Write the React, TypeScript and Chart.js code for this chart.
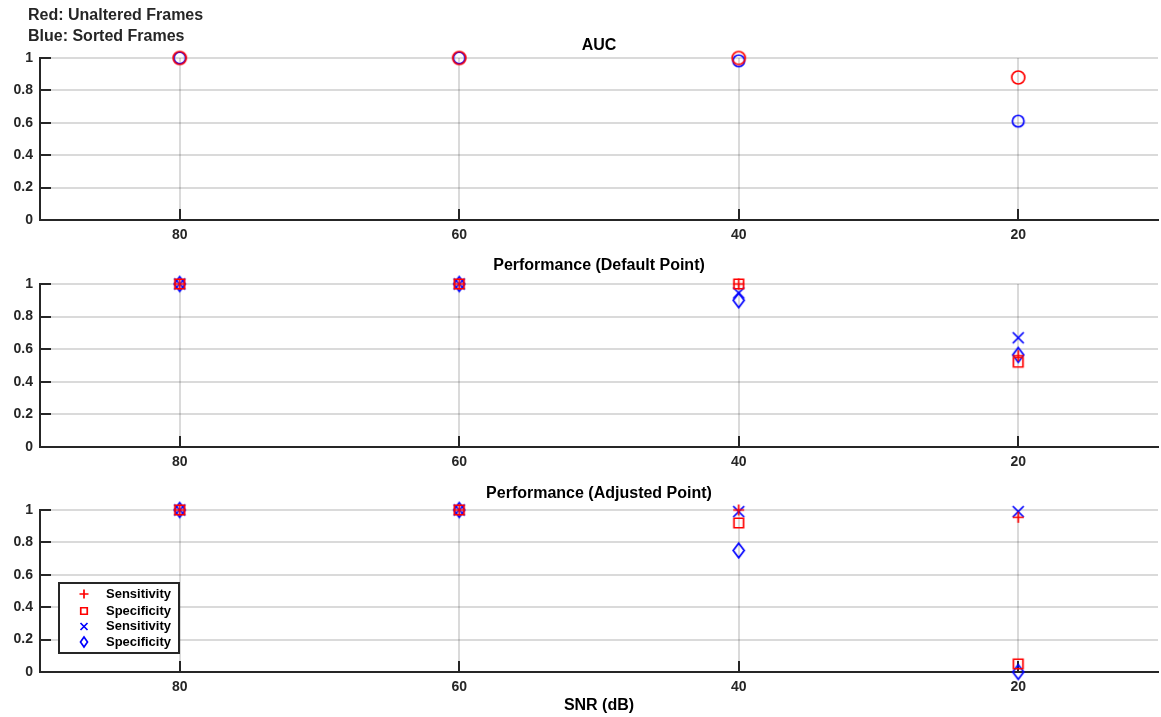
import React, { useEffect, useRef } from 'react';
import { Chart, registerables } from 'chart.js';

Chart.register(...registerables);

// ---------- data ----------
const snrLabels = ['80', '60', '40', '20'];
const yTickValues = [0, 0.2, 0.4, 0.6, 0.8, 1];

const aucUnaltered = [1, 1, 1, 0.88];
const aucSorted = [1, 1, 0.983, 0.61];

const defSensUnaltered = [1, 1, 1, 0.56];
const defSpecUnaltered = [1, 1, 1, 0.52];
const defSensSorted = [1, 1, 0.945, 0.67];
const defSpecSorted = [1, 1, 0.9, 0.565];

const adjSensUnaltered = [1, 1, 1, 0.955];
const adjSpecUnaltered = [1, 1, 0.92, 0.05];
const adjSensSorted = [1, 1, 0.99, 0.99];
const adjSpecSorted = [1, 1, 0.75, 0];

const legendLabels = ['Sensitivity', 'Specificity', 'Sensitivity', 'Specificity'];

// ---------- styles ----------
const RED = 'rgb(255,0,0)';
const BLUE = 'rgb(0,0,255)';
const AXIS = '#262626';
const GRID = 'rgba(38,38,38,0.17)';
const FONT = '"Liberation Sans", Arial, Helvetica, sans-serif';

function markerCanvas(shape: string, color: string, w: number, h: number, lw = 1.7): HTMLCanvasElement {
  const pad = 2;
  const c = document.createElement('canvas');
  c.width = Math.ceil(w + pad * 2);
  c.height = Math.ceil(h + pad * 2);
  const ctx = c.getContext('2d')!;
  drawShape(ctx, shape, color, c.width / 2, c.height / 2, w, h, lw);
  return c;
}

function drawShape(ctx: CanvasRenderingContext2D, shape: string, color: string, cx: number, cy: number, w: number, h: number, lw: number) {
  const hw = w / 2, hh = h / 2;
  ctx.save();
  ctx.strokeStyle = color;
  ctx.lineWidth = lw;
  ctx.beginPath();
  switch (shape) {
    case 'circle':
      ctx.ellipse(cx, cy, hw, hh, 0, 0, Math.PI * 2);
      break;
    case 'plus':
      ctx.moveTo(cx - hw, cy); ctx.lineTo(cx + hw, cy);
      ctx.moveTo(cx, cy - hh); ctx.lineTo(cx, cy + hh);
      break;
    case 'square':
      ctx.rect(cx - hw, cy - hh, w, h);
      break;
    case 'x':
      ctx.moveTo(cx - hw, cy - hh); ctx.lineTo(cx + hw, cy + hh);
      ctx.moveTo(cx + hw, cy - hh); ctx.lineTo(cx - hw, cy + hh);
      break;
    case 'diamond':
      ctx.moveTo(cx, cy - hh); ctx.lineTo(cx + hw, cy);
      ctx.lineTo(cx, cy + hh); ctx.lineTo(cx - hw, cy);
      ctx.closePath();
      break;
  }
  ctx.stroke();
  ctx.restore();
}

type TextItem = { text: string; x: number | 'center'; y: number; align?: CanvasTextAlign; size?: number; color?: string };

function textPlugin(items: TextItem[]) {
  return {
    id: 'texts',
    afterDraw(chart: any) {
      const ctx = chart.ctx as CanvasRenderingContext2D;
      const area = chart.chartArea;
      ctx.save();
      items.forEach((it) => {
        ctx.font = `bold ${it.size || 16}px ${FONT}`;
        ctx.fillStyle = it.color || '#000';
        ctx.textAlign = it.align || 'center';
        ctx.textBaseline = 'middle';
        const x = it.x === 'center' ? (area.left + area.right) / 2 : it.x;
        ctx.fillText(it.text, x, it.y);
      });
      ctx.restore();
    },
  };
}

const innerTicksPlugin = {
  id: 'innerTicks',
  beforeDatasetsDraw(chart: any) {
    const ctx = chart.ctx as CanvasRenderingContext2D;
    const xs = chart.scales.x;
    const ys = chart.scales.y;
    const area = chart.chartArea;
    ctx.save();
    ctx.strokeStyle = AXIS;
    ctx.lineWidth = 2;
    ctx.beginPath();
    xs.ticks.forEach((_t: any, i: number) => {
      const x = Math.round(xs.getPixelForTick(i));
      ctx.moveTo(x, area.bottom);
      ctx.lineTo(x, area.bottom - 11);
    });
    ys.ticks.forEach((_t: any, i: number) => {
      const y = Math.round(ys.getPixelForTick(i));
      ctx.moveTo(area.left, y);
      ctx.lineTo(area.left + 11, y);
    });
    ctx.stroke();
    ctx.restore();
  },
};

type LegendEntry = { shape: string; color: string; w: number; h: number; label: string };

function legendPlugin(entries: LegendEntry[]) {
  return {
    id: 'boxLegend',
    afterDraw(chart: any) {
      const ctx = chart.ctx as CanvasRenderingContext2D;
      const area = chart.chartArea;
      const left = area.left + 19;
      const bottom = area.bottom - 19;
      const width = 120;
      const height = 70;
      const top = bottom - height;
      ctx.save();
      ctx.fillStyle = '#fff';
      ctx.fillRect(left, top, width, height);
      ctx.strokeStyle = AXIS;
      ctx.lineWidth = 2;
      ctx.strokeRect(left, top, width, height);
      const rowY = [11, 28, 43.5, 59];
      entries.forEach((e, i) => {
        const y = top + rowY[i];
        drawShape(ctx, e.shape, e.color, left + 25, y, e.w, e.h, 1.7);
        ctx.font = `bold 13px ${FONT}`;
        ctx.fillStyle = '#000';
        ctx.textAlign = 'left';
        ctx.textBaseline = 'middle';
        ctx.fillText(e.label, left + 47, y);
      });
      ctx.restore();
    },
  };
}

function baseOptions(padTop: number, xHeight: number): any {
  return {
    animation: false,
    responsive: false,
    maintainAspectRatio: false,
    events: [],
    layout: { autoPadding: false, padding: { top: padTop, bottom: 0, left: 0, right: 3 } },
    plugins: { legend: { display: false }, tooltip: { enabled: false }, title: { display: false } },
    scales: {
      x: {
        type: 'category',
        offset: true,
        afterFit: (s: any) => { s.height = xHeight; s.paddingLeft = 0; s.paddingRight = 0; },
        grid: { display: true, offset: false, color: GRID, lineWidth: 2, drawTicks: false },
        border: { display: true, color: AXIS, width: 2 },
        ticks: { color: AXIS, padding: 7, font: { family: FONT, size: 14, weight: 'bold' } },
      },
      y: {
        type: 'linear',
        min: 0,
        max: 1,
        afterFit: (s: any) => { s.width = 40; },
        afterBuildTicks: (s: any) => { s.ticks = yTickValues.map((v) => ({ value: v })); },
        grid: { color: GRID, lineWidth: 2, drawTicks: false },
        border: { display: true, color: AXIS, width: 2 },
        ticks: {
          color: AXIS,
          padding: 7,
          font: { family: FONT, size: 14, weight: 'bold' },
          callback: (v: any) => String(Math.round(Number(v) * 10) / 10),
        },
      },
    },
  };
}

function ds(data: number[], marker: HTMLCanvasElement) {
  return {
    data,
    showLine: false,
    clip: false,
    pointStyle: marker,
    pointRadius: 8,
    pointBorderWidth: 0,
    backgroundColor: 'transparent',
    borderColor: 'transparent',
  };
}

function useChart(ref: React.RefObject<HTMLCanvasElement>, build: () => any) {
  useEffect(() => {
    if (!ref.current) return;
    const chart = new Chart(ref.current, build());
    return () => chart.destroy();
  }, []);
}

export default function App() {
  const c1 = useRef<HTMLCanvasElement>(null);
  const c2 = useRef<HTMLCanvasElement>(null);
  const c3 = useRef<HTMLCanvasElement>(null);

  const mk = () => ({
    redCircle: markerCanvas('circle', RED, 13, 13),
    blueCircle: markerCanvas('circle', BLUE, 11.5, 11.5),
    redPlus: markerCanvas('plus', RED, 11, 11),
    redSquare: markerCanvas('square', RED, 9.5, 9.5),
    blueX: markerCanvas('x', BLUE, 11, 11),
    blueDiamond: markerCanvas('diamond', BLUE, 11, 14.5),
  });

  useChart(c1, () => {
    const m = mk();
    return {
      type: 'line',
      data: { labels: snrLabels, datasets: [ds(aucUnaltered, m.redCircle), ds(aucSorted, m.blueCircle)] },
      options: baseOptions(58, 30),
      plugins: [
        innerTicksPlugin,
        textPlugin([
          { text: 'Red: Unaltered Frames', x: 28, y: 16, align: 'left', color: AXIS },
          { text: 'Blue: Sorted Frames', x: 28, y: 37, align: 'left', color: AXIS },
          { text: 'AUC', x: 'center', y: 46 },
        ]),
      ],
    };
  });

  useChart(c2, () => {
    const m = mk();
    return {
      type: 'line',
      data: {
        labels: snrLabels,
        datasets: [
          ds(defSensUnaltered, m.redPlus),
          ds(defSpecUnaltered, m.redSquare),
          ds(defSensSorted, m.blueX),
          ds(defSpecSorted, m.blueDiamond),
        ],
      },
      options: baseOptions(34, 28),
      plugins: [innerTicksPlugin, textPlugin([{ text: 'Performance (Default Point)', x: 'center', y: 16 }])],
    };
  });

  useChart(c3, () => {
    const m = mk();
    return {
      type: 'line',
      data: {
        labels: snrLabels,
        datasets: [
          ds(adjSensUnaltered, m.redPlus),
          ds(adjSpecUnaltered, m.redSquare),
          ds(adjSensSorted, m.blueX),
          ds(adjSpecSorted, m.blueDiamond),
        ],
      },
      options: baseOptions(35, 45),
      plugins: [
        innerTicksPlugin,
        textPlugin([
          { text: 'Performance (Adjusted Point)', x: 'center', y: 19 },
          { text: 'SNR (dB)', x: 'center', y: 231 },
        ]),
        legendPlugin([
          { shape: 'plus', color: RED, w: 9, h: 9, label: legendLabels[0] },
          { shape: 'square', color: RED, w: 6.5, h: 6.5, label: legendLabels[1] },
          { shape: 'x', color: BLUE, w: 7, h: 7, label: legendLabels[2] },
          { shape: 'diamond', color: BLUE, w: 7, h: 10, label: legendLabels[3] },
        ]),
      ],
    };
  });

  const wrap: React.CSSProperties = { position: 'absolute', left: 0, top: 0, width: 1161, height: 717, background: '#fff' };
  const cv = (top: number): React.CSSProperties => ({ position: 'absolute', left: 0, top, display: 'block' });

  return (
    <div style={wrap}>
      <canvas ref={c1} width={1161} height={250} style={cv(0)} />
      <canvas ref={c2} width={1161} height={225} style={cv(250)} />
      <canvas ref={c3} width={1161} height={242} style={cv(475)} />
    </div>
  );
}
